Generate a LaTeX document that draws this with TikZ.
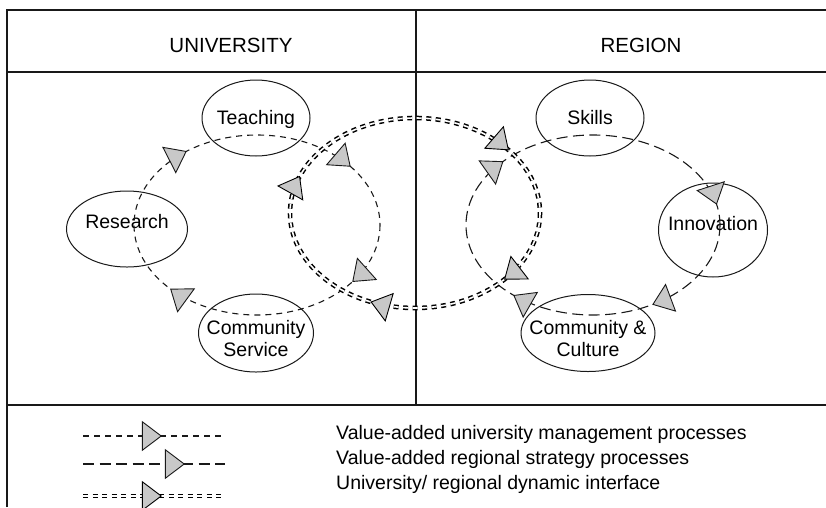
\documentclass[tikz,border=0pt]{standalone}
\usepackage{fontspec}
\setmainfont{Liberation Sans}
\usetikzlibrary{arrows.meta, decorations.markings, shapes.geometric}

\begin{document}
\begin{tikzpicture}[x=1pt, y=-1pt, font=\fontsize{19.5}{22}\selectfont]

\definecolor{tipgray}{RGB}{200, 200, 200}
\definecolor{inkgray}{RGB}{25, 25, 25}

% Canvas
\useasboundingbox (0,0) rectangle (826,507);

\tikzset{
    gtri/.tip={Triangle[length=20pt, width=30pt, fill=tipgray, line width=0.9pt]},
    tip at/.style={
        postaction={decorate, decoration={markings,
            mark=at position #1 with {\arrow{gtri}}}}
    },
    frame/.style={draw=inkgray, line width=1.8pt},
    activity/.style n args={2}{
        draw=inkgray, ellipse, line width=1pt, inner sep=0pt,
        minimum width=#1, minimum height=#2
    },
    caption/.style={inner sep=0pt, align=center},
    uni loop/.style={draw=inkgray, line width=1.1pt, dash pattern=on 6pt off 5pt},
    region loop/.style={draw=inkgray, line width=1.1pt, dash pattern=on 11pt off 5.5pt},
    iface loop/.style={draw=black, double, double distance=1.6pt, line width=1.5pt,
        dash pattern=on 5pt off 4.5pt}
}

% Frame
\draw[frame] (7,507) -- (7,10) -- (826,10);
\draw[frame] (7,72) -- (826,72);
\draw[frame] (416,10) -- (416,405);
\draw[frame] (7,405) -- (826,405);

% Headers
\node[anchor=base, font=\fontsize{20.5}{24}\selectfont] (university) at (231,52) {UNIVERSITY};
\node[anchor=base, font=\fontsize{20.5}{24}\selectfont] (region) at (641,52) {REGION};

% University activities
\node[activity={108}{76}] (teaching) at (256,118) {};
\node[activity={121}{76}] (research) at (127,229) {};
\node[activity={115}{78}] (service) at (256,333) {};
\node[caption, anchor=base] (teaching text) at (256,124) {Teaching};
\node[caption, anchor=base] (research text) at (127,228) {Research};
\node[caption] (service text) at (256,339) {Community\\Service};

% Region activities
\node[activity={108}{76}] (skills) at (590,118) {};
\node[activity={109}{94}] (innovation) at (713,230) {};
\node[activity={134}{77}] (culture) at (588,333) {};
\node[caption, anchor=base] (skills text) at (590,124) {Skills};
\node[caption, anchor=base] (innovation text) at (713,230) {Innovation};
\node[caption] (culture text) at (588,339) {Community \&\\Culture};

% Process loops
\coordinate (uni c) at (257,225);
\coordinate (region c) at (593,225);
\coordinate (iface c) at (415,213);

\draw[uni loop, tip at=0.097, tip at=0.387, tip at=0.642, tip at=0.900]
    (uni c) ellipse [x radius=123, y radius=90];
\draw[region loop, tip at=0.162, tip at=0.371, tip at=0.612, tip at=0.970]
    (region c) ellipse [x radius=127, y radius=90];
\path[preaction={iface loop}, tip at=0.113, tip at=0.315, tip at=0.556, tip at=0.896]
    (iface c) ellipse [x radius=125, y radius=95];

% Legend
\coordinate (key uni a) at (83,436);
\coordinate (key uni b) at (225,436);
\coordinate (key region a) at (83,464);
\coordinate (key region b) at (225,464);
\coordinate (key iface a) at (83,496);
\coordinate (key iface b) at (225,496);

\draw[uni loop, tip at=0.556] (key uni a) -- (key uni b);
\draw[region loop, tip at=0.718] (key region a) -- (key region b);
\path[preaction={iface loop}, tip at=0.556] (key iface a) -- (key iface b);

\node[anchor=base west, inner sep=0pt] (key uni text) at (336,439) {Value-added university management processes};
\node[anchor=base west, inner sep=0pt] (key region text) at (336,464) {Value-added regional strategy processes};
\node[anchor=base west, inner sep=0pt] (key iface text) at (336,489) {University/ regional dynamic interface};

\end{tikzpicture}
\end{document}
